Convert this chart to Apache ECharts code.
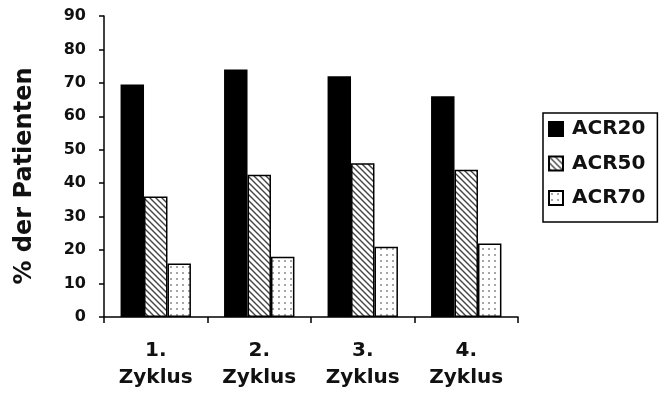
<!DOCTYPE html>
<html>
<head>
<meta charset="utf-8">
<script src="https://cdn.jsdelivr.net/npm/echarts@6/dist/echarts.min.js"></script>
<style>
html,body{margin:0;padding:0;background:#fff;}
#chart{width:670px;height:418px;}
</style>
</head>
<body>
<div id="chart"></div>
<script>
const categories = ['1.\nZyklus', '2.\nZyklus', '3.\nZyklus', '4.\nZyklus'];
const seriesNames = ['ACR20', 'ACR50', 'ACR70'];
const acr20 = [69.5, 74, 72, 66];
const acr50 = [36, 42.5, 46, 44];
const acr70 = [16, 18, 21, 22];
const yMin = 0, yMax = 90, yStep = 10;
const yAxisTitle = '% der Patienten';

const FONT = '"DejaVu Sans", Arial, sans-serif';

function hatchPattern() {
  const s = 6;
  const c = document.createElement('canvas');
  c.width = s; c.height = s;
  const g = c.getContext('2d');
  g.fillStyle = '#fff'; g.fillRect(0, 0, s, s);
  g.strokeStyle = '#444'; g.lineWidth = 1.4;
  g.beginPath();
  g.moveTo(-1, -1); g.lineTo(s + 1, s + 1);
  g.moveTo(-1, s - 1); g.lineTo(1, s + 1);
  g.moveTo(s - 1, -1); g.lineTo(s + 1, 1);
  g.stroke();
  return c;
}
function dotPattern() {
  const s = 6;
  const c = document.createElement('canvas');
  c.width = s; c.height = s;
  const g = c.getContext('2d');
  g.fillStyle = '#fff'; g.fillRect(0, 0, s, s);
  g.fillStyle = '#888';
  g.beginPath(); g.arc(3, 3, 1, 0, Math.PI * 2); g.fill();
  return c;
}

const fills = [
  '#000',
  { image: hatchPattern(), repeat: 'repeat' },
  { image: dotPattern(), repeat: 'repeat' }
];
const values = [acr20, acr50, acr70];

const chart = echarts.init(document.getElementById('chart'), null, { renderer: 'canvas' });
chart.setOption({
  animation: false,
  backgroundColor: '#fff',
  grid: { left: 104, right: 152, top: 16, bottom: 101, containLabel: false },
  legend: {
    orient: 'vertical',
    left: 543, top: 113,
    padding: [6, 12, 14, 5],
    itemGap: 14.5,
    itemWidth: 14, itemHeight: 14,
    borderColor: '#000', borderWidth: 1.5,
    icon: 'rect',
    textStyle: { fontFamily: FONT, fontWeight: 'bold', fontSize: 20, color: '#111', padding: [0, 0, 0, 4] },
    data: seriesNames
  },
  xAxis: {
    type: 'category',
    data: categories,
    axisLine: { lineStyle: { color: '#000', width: 1.5 } },
    axisTick: { show: true, length: 6, lineStyle: { color: '#000', width: 1.5 } },
    axisLabel: { fontFamily: FONT, fontWeight: 'bold', fontSize: 20, color: '#111', lineHeight: 27, margin: 20 }
  },
  yAxis: {
    type: 'value',
    min: yMin, max: yMax, interval: yStep,
    name: yAxisTitle,
    nameLocation: 'middle',
    nameGap: 67,
    nameTextStyle: { fontFamily: FONT, fontWeight: 'bold', fontSize: 24, color: '#111', padding: [0, 19, 0, 0] },
    splitLine: { show: false },
    axisLine: { show: true, lineStyle: { color: '#000', width: 1.5 } },
    axisTick: { show: true, length: 5, lineStyle: { color: '#000', width: 1.5 } },
    axisLabel: { fontFamily: FONT, fontWeight: 'bold', fontSize: 16, color: '#111', margin: 18 }
  },
  series: seriesNames.map((n, i) => ({
    name: n,
    type: 'bar',
    data: values[i],
    barGap: '0%',
    barCategoryGap: '32%',
    itemStyle: { color: fills[i], borderColor: '#000', borderWidth: 1.5 }
  }))
});
</script>
</body>
</html>
